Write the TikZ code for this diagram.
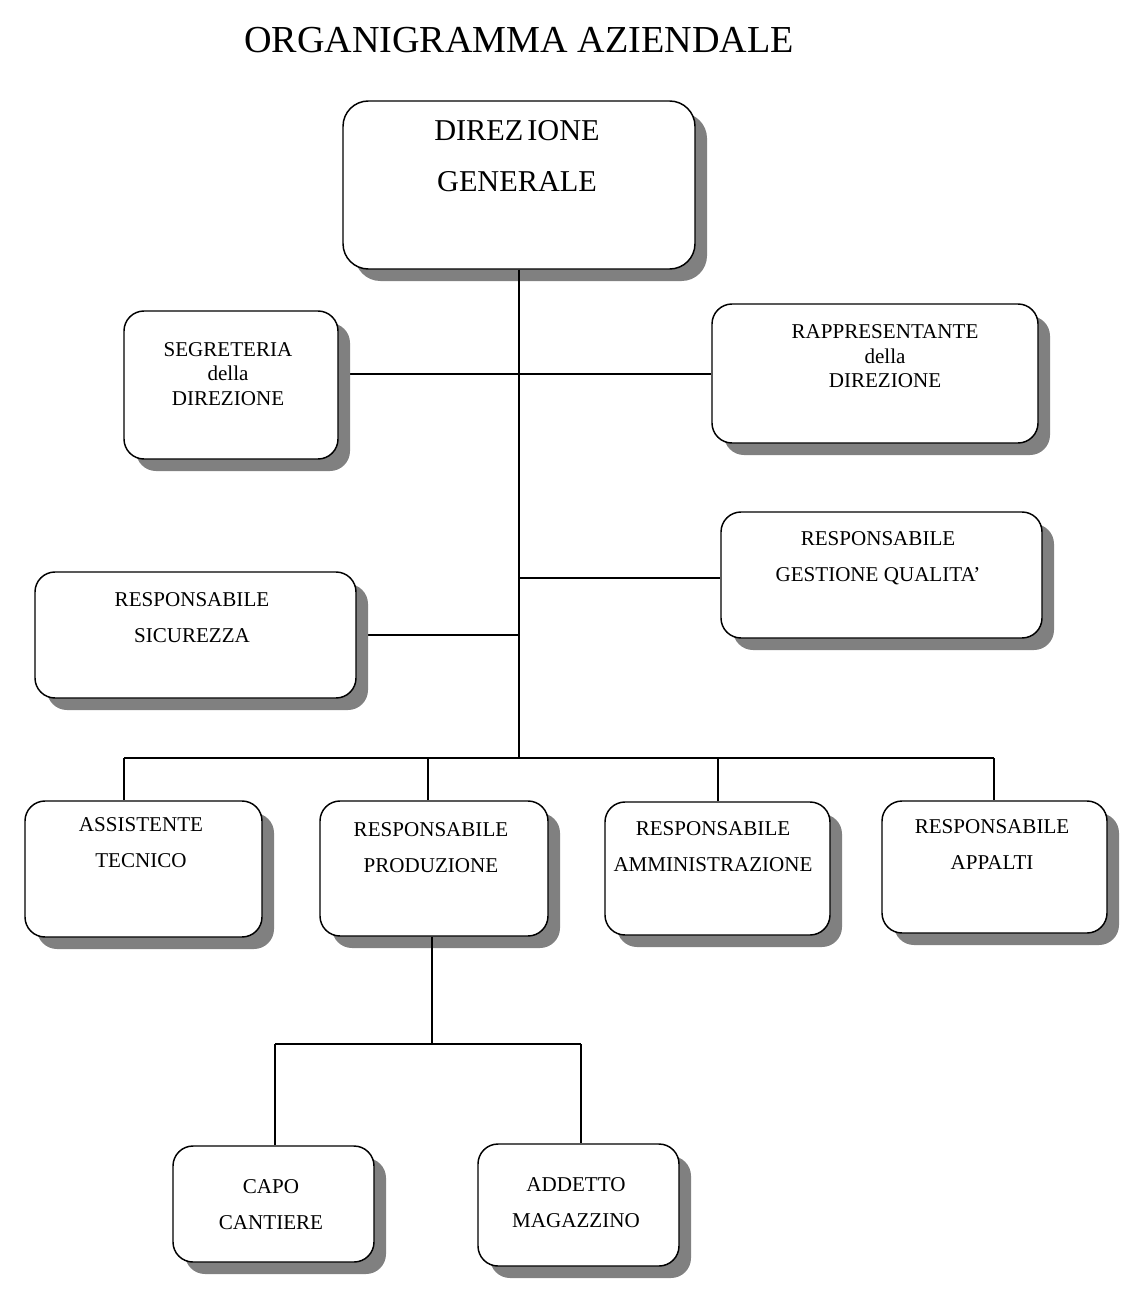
\documentclass[tikz,border=0pt]{standalone}
\usepackage{fontspec}
\setmainfont{Liberation Serif}
\usetikzlibrary{shadows,fit,backgrounds}
\begin{document}
\begin{tikzpicture}[x=0.75pt,y=-0.75pt,
  box/.style={draw=black, line width=1.1pt, fill=white, rounded corners=15pt, inner sep=0pt,
    drop shadow={shadow xshift=9pt, shadow yshift=-9pt, fill=black!50, opacity=1}},
  lbl/.style={align=center, font=\fontsize{15.8}{27}\selectfont, inner sep=0pt},
  conn/.style={line width=0.9pt}]
\useasboundingbox (0,0) rectangle (1136,1302);
% title
\node[inner sep=0pt, font=\fontsize{28.6}{30}\selectfont] (title) at (519,40) {ORGANIGRAMMA AZIENDALE};
% boxes
\node[box, rounded corners=19pt, fit={(343,101)(695,269)}] (dg) {};
\node[box, fit={(124,311)(338,459)}] (seg) {};
\node[box, fit={(712,304)(1038,443)}] (rap) {};
\node[box, fit={(721,512)(1042,638)}] (qual) {};
\node[box, fit={(35,572)(356,698)}] (sic) {};
\node[box, fit={(25,801)(262,937)}] (ass) {};
\node[box, fit={(320,801)(548,936)}] (prod) {};
\node[box, fit={(605,802)(830,935)}] (amm) {};
\node[box, fit={(882,801)(1107,933)}] (app) {};
\node[box, fit={(173,1146)(374,1262)}] (capo) {};
\node[box, fit={(478,1144)(679,1266)}] (add) {};
% labels
\node[lbl, font=\fontsize{22.7}{38.25}\selectfont] (dg-t) at (517,156) {DIREZ\kern3pt IONE\\GENERALE};
\node[lbl, font=\fontsize{15.8}{18.4}\selectfont] (seg-t) at (228,374) {SEGRETERIA\\della\\DIREZIONE};
\node[lbl, font=\fontsize{15.8}{18.4}\selectfont] (rap-t) at (885,356.5) {RAPPRESENTANTE\\della\\DIREZIONE};
\node[lbl] (qual-t) at (878,558) {RESPONSABILE\\GESTIONE QUALITA’};
\node[lbl] (sic-t) at (192,617.5) {RESPONSABILE\\SICUREZZA};
\node[lbl] (ass-t) at (141,842.5) {ASSISTENTE\\TECNICO};
\node[lbl] (prod-t) at (431,848) {RESPONSABILE\\PRODUZIONE};
\node[lbl] (amm-t) at (713,847) {RESPONSABILE\\AMMINISTRAZIONE};
\node[lbl] (app-t) at (992,845) {RESPONSABILE\\APPALTI};
\node[lbl] (capo-t) at (271,1204.5) {CAPO\\CANTIERE};
\node[lbl] (add-t) at (576,1202.5) {ADDETTO\\MAGAZZINO};
% connector coordinates
\coordinate (j) at (519,758);
\coordinate (s1) at (519,374);
\coordinate (s2) at (519,578);
\coordinate (s3) at (519,635);
\coordinate (b1) at (124,758);
\coordinate (b2) at (428,758);
\coordinate (b3) at (718,758);
\coordinate (b4) at (994,758);
\coordinate (p) at (432,1044);
\coordinate (c1) at (275,1044);
\coordinate (c2) at (581,1044);
% drops that lie over the shadows
\draw[conn] (dg.south) -- (j);
\draw[conn] (p |- prod.south) -- (p);
\begin{scope}[on background layer]
\fill[white] (0,0) rectangle (1136,1302);
\draw[conn] (seg.east |- s1) -- (rap.west |- s1);
\draw[conn] (s2) -- (qual.west |- s2);
\draw[conn] (sic.east |- s3) -- (s3);
\draw[conn] (b1) -- (b4);
\draw[conn] (b1) -- (b1 |- ass.north);
\draw[conn] (b2) -- (b2 |- prod.north);
\draw[conn] (b3) -- (b3 |- amm.north);
\draw[conn] (b4) -- (b4 |- app.north);
\draw[conn] (c1) -- (c2);
\draw[conn] (c1) -- (c1 |- capo.north);
\draw[conn] (c2) -- (c2 |- add.north);
\end{scope}
\end{tikzpicture}
\end{document}
